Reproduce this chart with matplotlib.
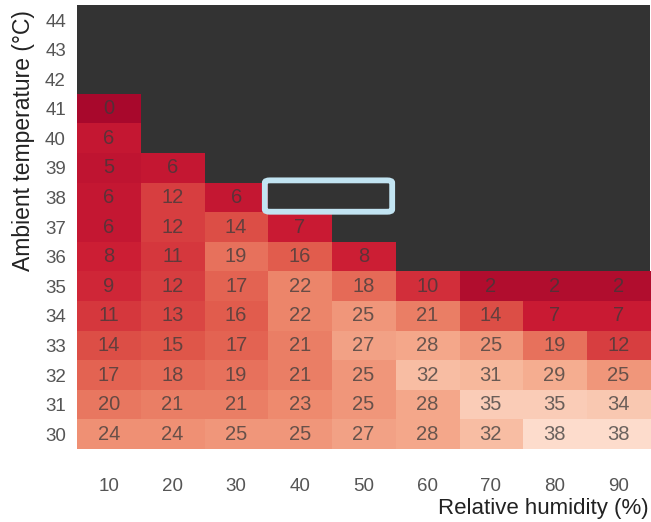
import matplotlib
matplotlib.use("Agg")
import matplotlib.pyplot as plt
import numpy as np
from matplotlib.colors import LinearSegmentedColormap
from matplotlib.patches import FancyBboxPatch

plt.rcParams['font.family'] = ['Liberation Sans', 'DejaVu Sans']

humidity = [10, 20, 30, 40, 50, 60, 70, 80, 90]
temps = [44, 43, 42, 41, 40, 39, 38, 37, 36, 35, 34, 33, 32, 31, 30]
nan = np.nan

# minutes, one row per ambient temperature (top row = 44 C)
r44 = [nan] * 9
r43 = [nan] * 9
r42 = [nan] * 9
r41 = [0, nan, nan, nan, nan, nan, nan, nan, nan]
r40 = [6, nan, nan, nan, nan, nan, nan, nan, nan]
r39 = [5, 6, nan, nan, nan, nan, nan, nan, nan]
r38 = [6, 12, 6, nan, nan, nan, nan, nan, nan]
r37 = [6, 12, 14, 7, nan, nan, nan, nan, nan]
r36 = [8, 11, 19, 16, 8, nan, nan, nan, nan]
r35 = [9, 12, 17, 22, 18, 10, 2, 2, 2]
r34 = [11, 13, 16, 22, 25, 21, 14, 7, 7]
r33 = [14, 15, 17, 21, 27, 28, 25, 19, 12]
r32 = [17, 18, 19, 21, 25, 32, 31, 29, 25]
r31 = [20, 21, 21, 23, 25, 28, 35, 35, 34]
r30 = [24, 24, 25, 25, 27, 28, 32, 38, 38]

grid = np.array([r44, r43, r42, r41, r40, r39, r38, r37, r36,
                 r35, r34, r33, r32, r31, r30], dtype=float)
data = np.ma.masked_invalid(grid)

cmap = LinearSegmentedColormap.from_list(
    "heat", ["#a8082c", "#cc1c34", "#e0584a", "#ee8a6e", "#f7b598", "#fddccc"])

fig = plt.figure(figsize=(6.51, 5.22), dpi=100)
ax = fig.add_axes([0.1183, 0.1398, 0.8802, 0.8502])
ax.set_facecolor("#333333")
ax.imshow(data, cmap=cmap, vmin=0, vmax=38, aspect="auto", interpolation="nearest")

for i in range(grid.shape[0]):
    for j in range(grid.shape[1]):
        v = grid[i, j]
        if not np.isnan(v):
            ax.text(j, i, "%d" % v, ha="center", va="center", fontsize=14.5,
                    color="#3a3a3a", alpha=0.75)

ax.set_xticks(range(len(humidity)))
ax.set_xticklabels([str(h) for h in humidity])
ax.set_yticks(range(len(temps)))
ax.set_yticklabels([str(t) for t in temps])
ax.tick_params(axis="both", length=0, labelsize=13.5, labelcolor="#555555")
ax.tick_params(axis="x", pad=21)
ax.tick_params(axis="y", pad=8)
for s in ax.spines.values():
    s.set_visible(False)
ax.set_xlim(-0.5, 8.5)
ax.set_ylim(14.5, -0.5)

fig.text(0.036, 0.73, "Ambient temperature (°C)", rotation=90, ha="center", va="center",
         fontsize=16.5, color="#222222")
fig.text(0.996, 0.006, "Relative humidity (%)", ha="right", va="bottom",
         fontsize=16, color="#222222")

# highlight box around the missing 40-50 % cells at 38 C
box = FancyBboxPatch((2.45, 5.42), 2.0, 1.06, boxstyle="round,pad=0,rounding_size=0.08",
                     fill=False, edgecolor="#c2e4f2", linewidth=4.2, zorder=5)
ax.add_patch(box)

fig.savefig("out.png", dpi=100)
